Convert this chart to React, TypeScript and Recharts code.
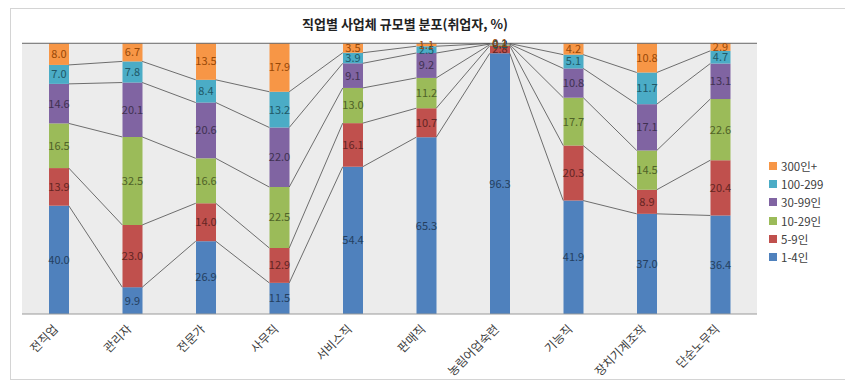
import React from 'react';
import {
    ComposedChart,
    Bar,
    Line,
    XAxis,
    YAxis,
    CartesianGrid,
    Legend,
    LabelList,
    ReferenceLine
} from 'recharts';

const occupations = ['전직업', '관리자', '전문가', '사무직', '서비스직', '판매직', '농림어업숙련', '기능직', '장치기계조작', '단순노무직'];

// share of workers by establishment size (%), bottom to top of each stack
const size1to4 = [40.0, 9.9, 26.9, 11.5, 54.4, 65.3, 96.3, 41.9, 37.0, 36.4];
const size5to9 = [13.9, 23.0, 14.0, 12.9, 16.1, 10.7, 2.8, 20.3, 8.9, 20.4];
const size10to29 = [16.5, 32.5, 16.6, 22.5, 13.0, 11.2, 0.4, 17.7, 14.5, 22.6];
const size30to99 = [14.6, 20.1, 20.6, 22.0, 9.1, 9.2, 0.2, 10.8, 17.1, 13.1];
const size100to299 = [7.0, 7.8, 8.4, 13.2, 3.9, 2.5, 0.2, 5.1, 11.7, 4.7];
const size300plus = [8.0, 6.7, 13.5, 17.9, 3.5, 1.1, 0.1, 4.2, 10.8, 2.9];

const SERIES = [
    { key: 's1', name: '1-4인', values: size1to4, color: '#4f81bd', text: '#243f60' },
    { key: 's2', name: '5-9인', values: size5to9, color: '#c0504d', text: '#632523' },
    { key: 's3', name: '10-29인', values: size10to29, color: '#9bbb59', text: '#4f6228' },
    { key: 's4', name: '30-99인', values: size30to99, color: '#8064a2', text: '#3f3151' },
    { key: 's5', name: '100-299', values: size100to299, color: '#4bacc6', text: '#205867' },
    { key: 's6', name: '300인+', values: size300plus, color: '#f79646', text: '#974806' }
];

const BAR_SIZE = 20;
const FONT = '"Noto Sans CJK KR", "Noto Sans", sans-serif';

const data = occupations.map((name, i) => {
    const row: any = { name };
    SERIES.forEach(s => { row[s.key] = s.values[i]; });
    return row;
});

// running total up to series k, used for the series lines between bars
const cumulative = (k: number) => (d: any) =>
    SERIES.slice(0, k + 1).reduce((sum, s) => sum + d[s.key], 0);

// draws a connector from the right edge of this bar to the left edge of the next one
const seriesLineDot = (props: any) => {
    const { cx, cy, index, points } = props;
    const next = points && points[index + 1];
    if (!next) return <g key={`sl-${index}`} />;
    return (
        <line
            key={`sl-${index}`}
            x1={cx + BAR_SIZE / 2}
            y1={cy}
            x2={next.x - BAR_SIZE / 2}
            y2={next.y}
            stroke="#4d4d4d"
            strokeWidth={0.8}
        />
    );
};

const AngledTick = ({ x, y, payload }: any) => (
    <text
        x={x}
        y={y + 8}
        transform={`rotate(-45, ${x}, ${y + 8})`}
        textAnchor="end"
        fontSize={12}
        fontFamily={FONT}
        fill="#404040"
    >
        {payload.value}
    </text>
);

const renderLegend = () => (
    <div style={{ fontFamily: FONT, fontSize: 11.5, color: '#404040' }}>
        {[...SERIES].reverse().map(s => (
            <div key={s.key} style={{ display: 'flex', alignItems: 'center', height: 18.2 }}>
                <span style={{ width: 8, height: 8, background: s.color, marginRight: 4 }} />
                {s.name}
            </div>
        ))}
    </div>
);

const App = () => {
    return (
        <div
            style={{
                position: 'absolute',
                left: 10,
                top: 8,
                width: 834,
                height: 370,
                border: '1px solid #d4d4d4',
                borderRight: 'none',
                background: '#fff'
            }}
        >
            <div
                style={{
                    position: 'absolute',
                    top: 5,
                    left: 0,
                    width: 788,
                    textAlign: 'center',
                    fontFamily: FONT,
                    fontSize: 13,
                    fontWeight: 'bold',
                    color: '#222'
                }}
            >
                직업별 사업체 규모별 분포(취업자, %)
            </div>
            <ComposedChart
                width={834}
                height={370}
                data={data}
                margin={{ top: 34, right: 88, bottom: 5, left: 11 }}
            >
                <CartesianGrid horizontal={false} vertical={false} fill="#ececec" />
                <XAxis
                    dataKey="name"
                    height={60}
                    tickLine={false}
                    axisLine={{ stroke: '#9a9a9a' }}
                    tick={<AngledTick />}
                    interval={0}
                />
                <YAxis hide domain={[0, 100]} />
                <ReferenceLine y={100} stroke="#666" strokeWidth={1} />
                {SERIES.map(s => (
                    <Bar
                        key={s.key}
                        dataKey={s.key}
                        name={s.name}
                        stackId="size"
                        fill={s.color}
                        barSize={BAR_SIZE}
                        isAnimationActive={false}
                    >
                        <LabelList
                            dataKey={s.key}
                            position="center"
                            formatter={(v: any) => Number(v).toFixed(1)}
                            fill={s.text}
                            fontSize={11}
                            fontFamily={FONT}
                        />
                    </Bar>
                ))}
                {SERIES.slice(0, 5).map((s, k) => (
                    <Line
                        key={`line-${s.key}`}
                        dataKey={cumulative(k)}
                        stroke="none"
                        dot={seriesLineDot}
                        activeDot={false}
                        legendType="none"
                        isAnimationActive={false}
                    />
                ))}
                <Legend
                    layout="horizontal"
                    verticalAlign="middle"
                    align="center"
                    content={renderLegend}
                    wrapperStyle={{ left: 758, top: 148, width: 80 }}
                />
            </ComposedChart>
        </div>
    );
};

export default App;
